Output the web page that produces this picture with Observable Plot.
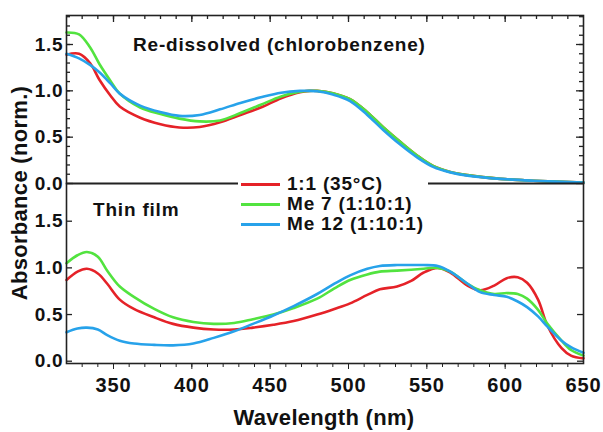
<!DOCTYPE html>
<html>
<head>
<meta charset="utf-8">
<script src="https://cdn.jsdelivr.net/npm/d3@7"></script>
<script src="https://cdn.jsdelivr.net/npm/@observablehq/plot@0.6"></script>
<style>
  body { margin: 0; background: #fff; }
  #wrap { position: relative; width: 603px; height: 432px; font-family: "Liberation Sans", Arial, sans-serif; font-weight: bold; color: #111; overflow: hidden; }
  #wrap svg { position: absolute; left: 0; top: 0; overflow: visible; background: transparent; }
  .lbl { position: absolute; white-space: nowrap; font-size: 19px; line-height: 1; letter-spacing: 0.8px; }
  #ylab { position: absolute; left: 20px; top: 193px; transform: translate(-50%, -50%) rotate(-90deg); font-size: 22px; line-height: 1; white-space: nowrap; letter-spacing: 0.3px; }
  #xlab { position: absolute; left: 324px; top: 407px; transform: translateX(-50%); font-size: 22px; line-height: 1; white-space: nowrap; letter-spacing: 0.3px; }
  #legend { position: absolute; left: 238px; top: 174px; width: 190px; height: 60px; background: #fff; }
  .row { display: flex; align-items: center; height: 20px; line-height: 20px; font-size: 19px; letter-spacing: 0.8px; white-space: nowrap; }
  .sw { width: 39px; height: 3px; margin-left: 3px; margin-right: 7px; flex: none; }
</style>
</head>
<body>
<div id="wrap"></div>
<script>
// ---- data ----
const seriesNames = ["1:1 (35°C)", "Me 7 (1:10:1)", "Me 12 (1:10:1)"];
const seriesColors = ["#e52228", "#52e33f", "#27a2ea"];

// Re-dissolved (chlorobenzene)
const solWl    = [320, 328, 335, 341, 348, 354, 367, 380, 392, 405, 418, 431, 444, 457, 469, 475, 480, 490, 501, 512, 522, 533, 544, 554, 565, 576, 597, 618, 650];
const solRed   = [1.39, 1.40, 1.30, 1.12, 0.95, 0.83, 0.71, 0.64, 0.605, 0.61, 0.66, 0.74, 0.82, 0.92, 0.985, 1.0, 1.0, 0.975, 0.91, 0.77, 0.61, 0.45, 0.30, 0.19, 0.125, 0.09, 0.05, 0.03, 0.01];
const solGreen = [1.63, 1.61, 1.47, 1.29, 1.11, 0.97, 0.82, 0.75, 0.70, 0.67, 0.68, 0.76, 0.85, 0.94, 0.99, 1.0, 1.0, 0.975, 0.91, 0.77, 0.61, 0.45, 0.30, 0.19, 0.125, 0.09, 0.05, 0.03, 0.01];
const solBlue  = [1.40, 1.35, 1.28, 1.20, 1.08, 0.97, 0.84, 0.77, 0.73, 0.74, 0.80, 0.87, 0.93, 0.98, 1.0, 1.0, 0.995, 0.96, 0.89, 0.74, 0.58, 0.42, 0.28, 0.18, 0.12, 0.085, 0.05, 0.03, 0.01];

// Thin film
const filmWl    = [320, 327, 333, 340, 346, 354, 363, 376, 388, 401, 414, 427, 439, 452, 465, 480, 491, 501, 512, 520, 531, 540, 548, 557, 565, 576, 584, 593, 601, 608, 614, 621, 627, 636, 642, 650];
const filmRed   = [0.87, 0.96, 0.99, 0.94, 0.83, 0.66, 0.56, 0.47, 0.40, 0.36, 0.34, 0.34, 0.36, 0.39, 0.43, 0.50, 0.56, 0.62, 0.71, 0.77, 0.80, 0.86, 0.95, 1.0, 0.95, 0.81, 0.76, 0.81, 0.89, 0.90, 0.84, 0.66, 0.38, 0.14, 0.06, 0.03];
const filmGreen = [1.05, 1.135, 1.17, 1.12, 0.97, 0.80, 0.69, 0.56, 0.47, 0.42, 0.40, 0.41, 0.45, 0.50, 0.57, 0.67, 0.78, 0.87, 0.93, 0.96, 0.97, 0.98, 0.99, 1.0, 0.96, 0.83, 0.76, 0.72, 0.73, 0.72, 0.67, 0.55, 0.40, 0.22, 0.12, 0.06];
const filmBlue  = [0.31, 0.35, 0.36, 0.34, 0.28, 0.22, 0.19, 0.175, 0.17, 0.19, 0.25, 0.32, 0.40, 0.49, 0.59, 0.72, 0.83, 0.92, 0.99, 1.02, 1.03, 1.03, 1.03, 1.02, 0.96, 0.83, 0.74, 0.71, 0.69, 0.64, 0.58, 0.48, 0.37, 0.22, 0.15, 0.09];

const xMajorLabels = [350, 400, 450, 500, 550, 600, 650];
const yMajorLabels = [0, 0.5, 1.0, 1.5];

// ---- build tables ----
function tidy(wl, lists) {
  return seriesNames.flatMap((s, i) => wl.map((w, j) => ({wl: w, v: lists[i][j], s})));
}
const solData = tidy(solWl, [solRed, solGreen, solBlue]);
const filmData = tidy(filmWl, [filmRed, filmGreen, filmBlue]);

const xMinor = d3.range(33, 65).map(d => d * 10);
const xMajorInner = xMajorLabels.filter(d => d < 650);
const yMinorTop = d3.range(1, 19).map(d => d / 10);

const W = 603, H = 432, ML = 66, MR = 20;
const PW = W - ML - MR;
const common = {
  width: W, height: H, marginLeft: ML, marginRight: MR,
  color: {domain: seriesNames, range: seriesColors},
  style: {fontFamily: "'Liberation Sans', Arial, sans-serif", fontSize: "19px", fontWeight: "bold", color: "#111", background: "transparent", overflow: "visible", letterSpacing: "0.8px"}
};
const lineOpts = {x: "wl", y: "v", z: "s", stroke: "s", strokeWidth: 2.6, curve: "catmull-rom"};
const tk = {stroke: "#222", strokeWidth: 1.3};

// inward tick helpers (lengths in px via insets)
const topTicks = (vals, len, ph) => Plot.tickX(vals, {x: d => d, insetBottom: ph - len, ...tk});
const leftTicks = (vals, len) => Plot.tickY(vals, {y: d => d, insetRight: PW - len, ...tk});
const rightTicks = (vals, len) => Plot.tickY(vals, {y: d => d, insetLeft: PW - len, ...tk});

const topPH = 183 - 15;
const topPlot = Plot.plot({
  ...common,
  marginTop: 15, marginBottom: H - 183,
  x: {domain: [320, 650], axis: null},
  y: {domain: [0, 1.813]},
  marks: [
    topTicks(xMinor, 4, topPH),
    topTicks(xMajorInner, 7, topPH),
    leftTicks(yMinorTop, 4),
    leftTicks(yMajorLabels, 7),
    rightTicks(yMinorTop, 4),
    rightTicks(yMajorLabels, 7),
    Plot.axisY(yMajorLabels, {anchor: "left", tickSize: 0, tickPadding: 3, tickFormat: d3.format(".1f"), label: null, fill: "#111"}),
    Plot.line(solData, lineOpts),
    Plot.frame({stroke: "#222", strokeWidth: 1.6})
  ]
});

const botPlot = Plot.plot({
  ...common,
  marginTop: 183, marginBottom: H - 363,
  x: {domain: [320, 650]},
  y: {domain: [-0.0246, 1.904]},
  marks: [
    Plot.axisX(xMinor, {anchor: "bottom", tickSize: 4, tickFormat: () => "", label: null, stroke: "#222"}),
    Plot.axisX(xMajorInner, {anchor: "bottom", tickSize: 6, tickFormat: () => "", label: null, stroke: "#222"}),
    Plot.axisX(xMajorLabels, {anchor: "bottom", tickSize: 0, tickPadding: 14, tickFormat: d => String(d), label: null, fontSize: 20, fill: "#111"}),
    leftTicks(yMajorLabels, 6),
    rightTicks(yMajorLabels, 6),
    Plot.axisY(yMajorLabels, {anchor: "left", tickSize: 0, tickPadding: 3, tickFormat: d3.format(".1f"), label: null, fill: "#111"}),
    Plot.line(filmData, lineOpts),
    Plot.frame({stroke: "#222", strokeWidth: 1.6})
  ]
});

const wrap = document.getElementById("wrap");
wrap.appendChild(topPlot);
wrap.appendChild(botPlot);

function addDiv(id, cls, text, left, top) {
  const d = document.createElement("div");
  if (id) d.id = id;
  if (cls) d.className = cls;
  d.textContent = text;
  if (left != null) d.style.left = left + "px";
  if (top != null) d.style.top = top + "px";
  wrap.appendChild(d);
  return d;
}
addDiv(null, "lbl", "Re-dissolved (chlorobenzene)", 133, 35);
addDiv(null, "lbl", "Thin film", 93, 200);
addDiv("ylab", null, "Absorbance (norm.)");
addDiv("xlab", null, "Wavelength (nm)");

const legend = document.createElement("div");
legend.id = "legend";
seriesNames.forEach((s, i) => {
  const row = document.createElement("div");
  row.className = "row";
  const sw = document.createElement("span");
  sw.className = "sw";
  sw.style.background = seriesColors[i];
  const t = document.createElement("span");
  t.textContent = s;
  row.appendChild(sw);
  row.appendChild(t);
  legend.appendChild(row);
});
wrap.appendChild(legend);
</script>
</body>
</html>
